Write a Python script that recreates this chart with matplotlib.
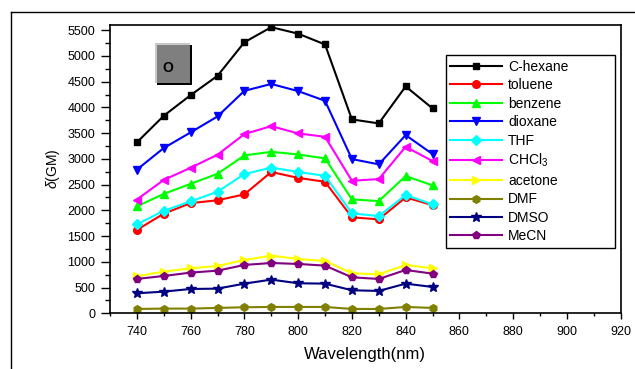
import matplotlib
matplotlib.use("Agg")
import matplotlib.pyplot as plt
from matplotlib.ticker import MultipleLocator
from matplotlib.patches import Rectangle
from matplotlib.lines import Line2D

plt.rcParams['font.family'] = ['Liberation Sans', 'DejaVu Sans']
plt.rcParams['mathtext.fontset'] = 'custom'
plt.rcParams['mathtext.rm'] = 'Liberation Sans'
plt.rcParams['mathtext.it'] = 'Liberation Sans:italic'

# two-photon cross sections
wavelength = [740, 750, 760, 770, 780, 790, 800, 810, 820, 830, 840, 850]
c_hexane = [3320, 3836, 4238, 4613, 5265, 5558, 5432, 5222, 3766, 3689, 4407, 3980]
toluene = [1620, 1935, 2140, 2195, 2310, 2745, 2630, 2555, 1864, 1825, 2252, 2100]
benzene = [2075, 2320, 2515, 2710, 3067, 3137, 3085, 3009, 2213, 2180, 2666, 2485]
dioxane = [2790, 3210, 3514, 3824, 4321, 4455, 4316, 4128, 2996, 2893, 3461, 3093]
thf = [1728, 1990, 2175, 2361, 2704, 2830, 2745, 2671, 1941, 1889, 2297, 2116]
chcl3 = [2210, 2590, 2827, 3080, 3481, 3636, 3494, 3429, 2575, 2607, 3235, 2957]
acetone = [720, 809, 874, 919, 1036, 1120, 1055, 1016, 777, 757, 939, 874]
dmf = [84, 91, 91, 104, 117, 123, 123, 123, 84, 84, 123, 104]
dmso = [388, 421, 472, 479, 576, 654, 583, 576, 447, 434, 576, 511]
mecn = [667, 725, 790, 828, 939, 977, 958, 926, 699, 667, 841, 770]

labels = ['C-hexane', 'toluene', 'benzene', 'dioxane', 'THF', r'CHCl$_3$',
          'acetone', 'DMF', 'DMSO', 'MeCN']
series = [c_hexane, toluene, benzene, dioxane, thf, chcl3,
          acetone, dmf, dmso, mecn]
colors = ['black', 'red', '#00ff00', 'blue', 'cyan', 'magenta',
          'yellow', '#808000', '#000080', '#800080']
markers = ['s', 'o', '^', 'v', 'D', '<', '>', 'h', '*', 'p']

fig = plt.figure(figsize=(6.35, 3.69), dpi=100)
ax = fig.add_axes([0.1732, 0.151, 0.8043, 0.7812])

for vals, lab, col, mk in zip(series, labels, colors, markers):
    ms = 5.5
    if mk == 's':
        ms = 4.5
    if mk == '*':
        ms = 7
    ax.plot(wavelength, vals, color=col, marker=mk, markersize=ms,
            linewidth=1.5, label=lab)

ax.set_xlim(730, 920)
ax.set_ylim(0, 5600)
ax.xaxis.set_major_locator(MultipleLocator(20))
ax.xaxis.set_minor_locator(MultipleLocator(10))
ax.yaxis.set_major_locator(MultipleLocator(500))
ax.yaxis.set_minor_locator(MultipleLocator(250))
ax.tick_params(axis='y', which='major', length=6.5, width=1, labelsize=9, pad=4)
ax.tick_params(axis='y', which='minor', length=3.5, width=1)
ax.tick_params(axis='x', which='major', length=4.3, width=1, labelsize=9, pad=5)
ax.tick_params(axis='x', which='minor', length=2.4, width=1)
for sp in ax.spines.values():
    sp.set_linewidth(1.2)

ax.set_xlabel('Wavelength(nm)', fontsize=12, labelpad=6)
ax.set_ylabel(r'$\it{\delta}$(GM)', fontsize=10, labelpad=4)

leg = ax.legend(loc='upper left', bbox_to_anchor=(0.657, 0.210, 0.332, 0.686),
                mode='expand', fontsize=10, frameon=True, fancybox=False,
                edgecolor='black', framealpha=1, handlelength=3.7,
                handletextpad=0.45, labelspacing=0.32, borderpad=0.35,
                borderaxespad=0)
leg.get_frame().set_linewidth(1.0)

# raised grey "O" button
bx0, by0 = (155 - 110) / 510.7, (313.3 - 83.3) / 288.3
bw, bh = 35 / 510.7, 40 / 288.3
ax.add_patch(Rectangle((bx0 + 0.004, by0 - 0.006), bw, bh, transform=ax.transAxes,
                       facecolor='black', edgecolor='none', zorder=5))
ax.add_patch(Rectangle((bx0, by0), bw, bh, transform=ax.transAxes,
                       facecolor='#c8c8c8', edgecolor='none', zorder=6))
ax.add_patch(Rectangle((bx0 + 0.004, by0), bw - 0.004, bh - 0.007,
                       transform=ax.transAxes, facecolor='#7f7f7f',
                       edgecolor='none', zorder=7))
ax.text(bx0 + bw * 0.38, by0 + bh * 0.38, 'O', transform=ax.transAxes,
        fontsize=10, fontweight='bold', ha='center', va='center', zorder=8)

# outer frame lines
fx, fy = 11 / 635, 1 - 12 / 369
fig.add_artist(Line2D([fx, 1.0], [fy, fy], color='black', linewidth=1,
                      transform=fig.transFigure))
fig.add_artist(Line2D([fx, fx], [0.0, fy], color='black', linewidth=1,
                      transform=fig.transFigure))

fig.savefig('out.png', dpi=100)
